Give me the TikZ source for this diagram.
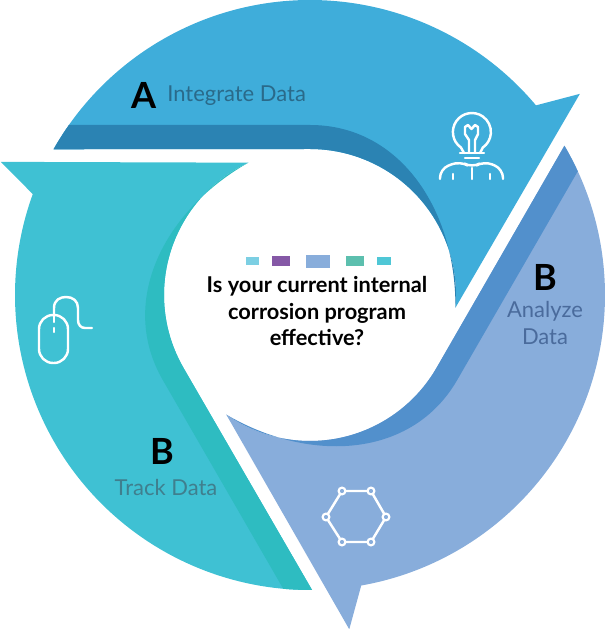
\documentclass[tikz,border=0pt]{standalone}
\usepackage{fontspec}
\setmainfont{Lato}
\usepackage{xcolor}
\definecolor{bluemain}{HTML}{3FADDA}
\definecolor{bluedark}{HTML}{2B83B3}
\definecolor{violetmain}{HTML}{88ADDB}
\definecolor{violetdark}{HTML}{5290CC}
\definecolor{tealmain}{HTML}{3FC1D3}
\definecolor{tealdark}{HTML}{2EBCC1}
\definecolor{squareone}{HTML}{7CCFE3}
\definecolor{squaretwo}{HTML}{8558A6}
\definecolor{squarefour}{HTML}{5CBFAE}
\definecolor{squarefive}{HTML}{4FC7D6}
\definecolor{bluetext}{HTML}{2A6A8A}
\definecolor{violettext}{HTML}{4A6B9C}
\definecolor{tealtext}{HTML}{3F7F8E}
\tikzset{
  letter/.style={font=\fontsize{20.5}{24}\selectfont\bfseries, text=black, inner sep=0pt},
  tag/.style={font=\fontsize{12.5}{14.8}\selectfont, align=center, inner sep=0pt},
  icon/.style={draw=white, line width=1.4pt, line cap=round, line join=round},
}
\begin{document}
\begin{tikzpicture}[x=.2mm,y=.2mm]
\useasboundingbox (-310,-334) rectangle (295,295);
% three arrows, same outline turned about the middle
\foreach \turn/\main/\dark in {0/bluemain/bluedark,-120/violetmain/violetdark,-240/tealmain/tealdark}{
  \begin{scope}[rotate=\turn]
  \fill[\main] (150.4:295) arc[start angle=150.4, end angle=40, radius=295] -- (36.7:336.6) -- (-5:146) arc[start angle=-5, end angle=90, radius=146] -- cycle;
  \fill[\dark] (150.4:295) arc[start angle=150.4, end angle=144.8, radius=295] -- (0,170) .. controls (90,170) and (146,85) .. (-5:146) arc[start angle=-5, end angle=90, radius=146] -- cycle;
  \end{scope}
}
% labels
\node[letter] (lettera) at (-166,200){A};
\node[tag, text=bluetext, anchor=west] (integrate) at (-143,199){Integrate Data};
\node[letter] (letterb) at (235,18){B};
\node[tag, text=violettext] (analyze) at (235,-28){Analyze\\Data};
\node[letter] (lettert) at (-148,-156){B};
\node[tag, text=tealtext] (track) at (-144,-192){Track Data};
% middle
\fill[squareone] (-64,30) rectangle (-51,38);
\fill[squaretwo] (-38,29) rectangle (-20,39);
\fill[violetmain] (-4,27) rectangle (20,40);
\fill[squarefour] (36,29) rectangle (54,39);
\fill[squarefive] (67,30) rectangle (81,38);
\node[font=\fontsize{12.4}{14.8}\selectfont\bfseries, align=center, inner sep=0pt] (question) at (7,-16){Is your current internal\\corrosion program\\effective?};
% bulb and person
\draw[icon] (154,142) -- (151,147.4) arc[start angle=235, end angle=-55, radius=19] -- (170,142);
\draw[icon] (150,142) -- (174,142);
\draw[icon] (155,137) -- (169,137);
\draw[icon] (159,143) -- (159,155) -- (155,161) -- (155,168) -- (158,170) -- (161.5,166) -- (165,170) -- (168,168) -- (168,161) -- (165,155) -- (165,143);
\draw[icon, rounded corners=5pt] (130,116) -- (130,126) -- (150,134) -- (162,127) -- (174,134) -- (193,126) -- (193,116);
\draw[icon] (162,127) -- (162,116);
\draw[icon] (143,121) -- (143,116);
\draw[icon] (180,121) -- (180,116);
% mouse
\draw[icon, rounded corners=8pt] (-271,-20) rectangle (-242,-68);
\draw[icon] (-256,-20) -- (-256,-27);
\draw[icon] (-256,-33) -- (-256,-37);
\draw[icon] (-256,-20) -- (-256,-13) .. controls (-256,-5) and (-250,-2) .. (-244,-2) .. controls (-237,-2) and (-232,-6) .. (-232,-13) -- (-232,-25) .. controls (-232,-30) and (-229,-33) .. (-225,-33) -- (-218,-33);
% hexagon
\draw[icon] (76,-222) -- (61,-196) -- (32,-196) -- (16,-222) -- (32,-247) -- (61,-247) -- cycle;
\foreach \spot in {(76,-222),(61,-196),(32,-196),(16,-222),(32,-247),(61,-247)}{
  \filldraw[draw=white, fill=violetmain, line width=1.2pt] \spot circle (3.4);
}
\end{tikzpicture}
\end{document}
